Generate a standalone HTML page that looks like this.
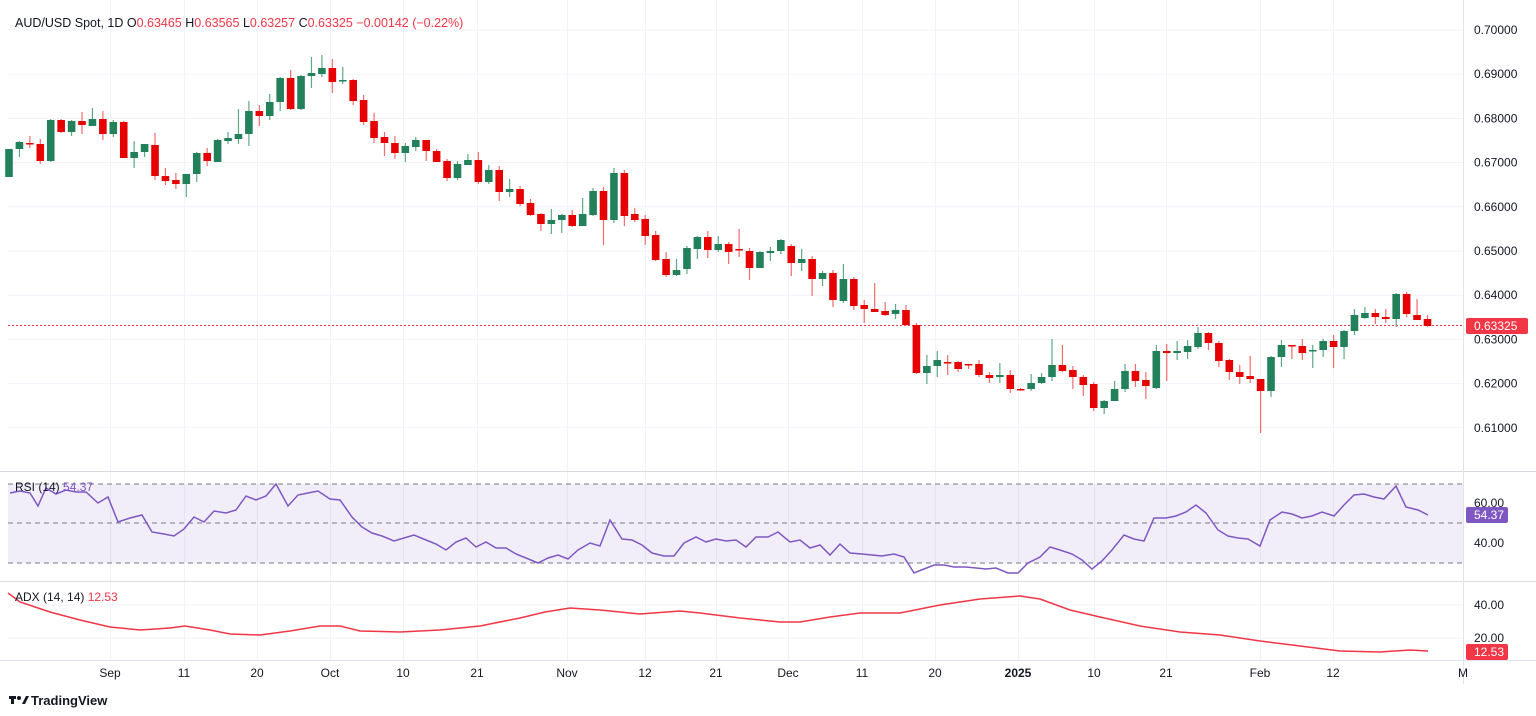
<!DOCTYPE html>
<html><head><meta charset="utf-8"><style>
html,body{margin:0;padding:0;background:#fff;width:1536px;height:716px;overflow:hidden;font-family:"Liberation Sans",sans-serif}
svg text{font-family:"Liberation Sans",sans-serif}
</style></head><body>
<svg id="s" width="1536" height="716" xmlns="http://www.w3.org/2000/svg">
<rect width="1536" height="716" fill="#fff"/>
<g id="grid"></g>
<rect x="8" y="484" width="1455" height="79" fill="#7e57c2" fill-opacity="0.1"/>
<line x1="8" y1="484" x2="1463" y2="484" stroke="#787b86" stroke-dasharray="5,4" stroke-width="1"/>
<line x1="8" y1="523" x2="1463" y2="523" stroke="#787b86" stroke-dasharray="5,4" stroke-width="1"/>
<line x1="8" y1="563" x2="1463" y2="563" stroke="#787b86" stroke-dasharray="5,4" stroke-width="1"/>
<line x1="0" y1="471.5" x2="1536" y2="471.5" stroke="#d9dbe0"/>
<line x1="0" y1="581.5" x2="1536" y2="581.5" stroke="#d9dbe0"/>
<line x1="0" y1="660.5" x2="1536" y2="660.5" stroke="#e0e3eb"/>
<line x1="1463.5" y1="0" x2="1463.5" y2="684" stroke="#e0e3eb"/>
<line x1="8" y1="325.5" x2="1463" y2="325.5" stroke="#f23645" stroke-dasharray="2,2" stroke-width="1"/>
<g id="candles"></g>
<polyline id="rsi" fill="none" stroke="#7e57c2" stroke-width="1.5"/>
<polyline id="adx" fill="none" stroke="#f23645" stroke-width="1.5"/>
<g id="labels" font-size="12" fill="#131722"></g>
<text x="15" y="27" font-size="12.5" fill="#131722">AUD/USD Spot, 1D <tspan fill="#131722">O</tspan><tspan fill="#f23645">0.63465 </tspan><tspan fill="#131722">H</tspan><tspan fill="#f23645">0.63565 </tspan><tspan fill="#131722">L</tspan><tspan fill="#f23645">0.63257 </tspan><tspan fill="#131722">C</tspan><tspan fill="#f23645">0.63325 −0.00142 (−0.22%)</tspan></text>
<text x="15" y="491" font-size="12" fill="#131722">RSI (14) <tspan fill="#7e57c2">54.37</tspan></text>
<text x="15" y="601" font-size="12" fill="#131722">ADX (14, 14) <tspan fill="#f23645">12.53</tspan></text>
<rect x="1466" y="318" width="62" height="16" rx="2" fill="#f23645"/>
<text x="1474" y="330" font-size="12" fill="#fff">0.63325</text>
<rect x="1466" y="507" width="42" height="16" rx="2" fill="#7e57c2"/>
<text x="1474" y="519" font-size="12" fill="#fff">54.37</text>
<rect x="1466" y="644" width="42" height="16" rx="2" fill="#f23645"/>
<text x="1474" y="656" font-size="12" fill="#fff">12.53</text>
<g transform="translate(9,694)"><rect x="0" y="2" width="7" height="3" fill="#131722"/><rect x="2" y="2" width="3" height="8" fill="#131722"/><circle cx="10" cy="4" r="2" fill="#131722"/><path d="M13 10 L17 2 L20 2 L16 10Z" fill="#131722"/></g>
<text x="31" y="705" font-size="13" font-weight="bold" fill="#131722">TradingView</text>
</svg>
<script>
const ns="http://www.w3.org/2000/svg";
function el(p,t,a,txt){const e=document.createElementNS(ns,t);for(const k in a)e.setAttribute(k,a[k]);if(txt!==undefined)e.textContent=txt;document.getElementById(p).appendChild(e);return e;}
// grid
const vx=[110,184,257,330,403,477,567,645,716,788,862,935,1018,1094,1166,1260,1333];
vx.forEach(x=>el('grid','line',{x1:x+.5,y1:0,x2:x+.5,y2:660,stroke:'#f0f3fa'}));
for(let i=0;i<10;i++){const y=30+i*44.2;el('grid','line',{x1:8,y1:y,x2:1463,y2:y,stroke:'#f0f3fa'});
el('labels','text',{x:1474,y:y+4},'0.'+(70000-i*1000).toString().padStart(5,'0'));}
[[0,605],[0,638]].forEach(()=>{});
el('grid','line',{x1:8,y1:605,x2:1463,y2:605,stroke:'#f0f3fa'});
el('grid','line',{x1:8,y1:638,x2:1463,y2:638,stroke:'#f0f3fa'});
el('labels','text',{x:1474,y:507},'60.00');el('labels','text',{x:1474,y:547},'40.00');
el('labels','text',{x:1474,y:609},'40.00');el('labels','text',{x:1474,y:642},'20.00');
const tl=[["Sep",110],["11",184],["20",257],["Oct",330],["10",403],["21",477],["Nov",567],["12",645],["21",716],["Dec",788],["11",862],["20",935],["2025",1018],["10",1094],["21",1166],["Feb",1260],["12",1333],["M",1463]];
tl.forEach(([t,x])=>{const e=el('labels','text',{x:x,y:677,'text-anchor':'middle'},t);if(t=="2025")e.setAttribute('font-weight','bold');});
// candles: [G/R, o, c, h, l] in px
const C=`G 177 149 149 177|G 149 142 141 157|R 143 144 136 148|R 144 161 139 164|G 161 120 119 162|R 120 132 119 133|G 132 121 120 136|R 121 125 112 134|G 126 119 108 126|R 119 134 111 140|G 134 122 120 137|R 122 158 121 158|G 158 152 141 168|G 152 144 144 157|R 145 176 133 180|R 176 181 168 185|R 180 184 173 189|G 184 174 174 197|G 174 153 152 182|R 153 161 148 166|G 162 140 139 162|G 141 138 132 144|G 139 134 109 144|G 134 111 101 146|R 111 116 105 126|G 116 102 94 120|G 102 78 77 111|R 78 109 70 110|G 109 76 75 110|G 76 73 57 88|G 74 68 55 77|R 68 82 59 93|G 81 80 67 84|R 80 101 79 105|R 100 122 95 125|R 121 138 113 143|R 137 143 132 156|R 143 153 136 159|G 153 146 143 162|G 147 140 137 151|R 140 151 140 161|R 151 162 149 162|R 161 178 159 181|G 178 164 161 180|G 165 160 154 165|R 160 182 152 184|G 182 170 165 184|R 170 192 166 201|G 192 189 179 197|R 189 204 186 206|R 203 215 199 216|R 214 224 213 231|G 224 220 209 234|G 220 215 214 233|R 215 226 210 227|G 226 214 198 226|G 215 191 188 216|R 191 220 187 245|G 220 173 168 223|R 173 216 170 226|R 214 220 208 222|R 219 236 215 245|R 235 260 231 261|R 259 275 252 277|G 275 270 259 276|G 269 248 246 274|G 249 237 236 259|R 237 250 231 258|G 250 244 236 252|R 244 252 242 264|R 249 250 229 257|R 251 268 248 280|G 268 252 251 268|G 253 251 247 261|G 251 240 239 254|R 246 263 244 276|G 263 259 249 271|R 259 279 256 296|G 279 273 271 286|R 273 300 270 307|G 301 279 264 303|R 279 306 277 310|R 305 309 300 323|R 309 312 283 312|R 311 315 302 316|G 314 310 304 319|R 310 325 305 326|R 325 373 323 374|G 373 366 355 384|G 366 360 351 377|R 362 363 355 375|R 362 369 361 372|R 364 365 364 369|R 364 375 360 377|R 375 378 372 383|G 377 375 363 383|R 375 389 370 393|R 389 390 388 390|G 389 383 374 391|G 383 377 373 384|G 377 365 339 381|R 365 371 345 372|R 370 377 366 389|R 377 385 375 396|R 384 408 382 411|G 408 401 400 414|G 401 389 381 401|G 389 371 364 392|R 371 381 364 387|R 380 386 372 399|G 388 351 345 389|R 351 353 344 381|G 353 351 341 360|G 352 346 340 359|G 347 333 327 349|R 333 343 332 350|R 343 361 341 367|R 360 372 359 380|R 372 377 365 384|R 376 379 356 383|R 379 391 379 433|G 391 357 356 397|G 357 345 340 367|R 345 346 345 359|R 346 353 339 360|G 351 350 345 368|G 350 341 339 357|R 341 347 335 368|G 347 331 330 359|G 331 315 309 335|G 318 313 307 319|R 313 317 309 324|R 317 319 309 323|G 319 294 293 327|R 294 314 292 317|R 315 320 299 320|R 319 326 315 327`.split('|');
C.forEach((s,i)=>{const [t,o,c,h,l]=s.split(' ');const col=t=='G'?'#22815a':'#e60000';const wc=t=='G'?'#5fa884':'#f26b6b';
const x=9+i*10.43;const top=Math.min(+o,+c),bot=Math.max(+o,+c);
el('candles','line',{x1:x,y1:h,x2:x,y2:l,stroke:wc,'stroke-width':1.2});
el('candles','rect',{x:x-3.8,y:top,width:7.6,height:Math.max(1.5,bot-top),fill:col});});
const R=`10 493,20 491,30 493,38 506,46 488,56 494,66 490,76 492,86 492,98 503,108 497,118 522,130 518,142 515,152 532,164 534,174 536,184 529,194 517,204 522,214 511,226 513,236 510,246 496,256 500,266 496,276 484,288 506,298 495,308 493,318 491,330 499,340 500,352 517,362 527,372 533,382 536,394 541,404 538,414 535,426 540,436 544,446 550,456 542,466 538,476 547,486 542,496 548,506 548,516 554,526 558,538 563,548 558,558 555,568 559,578 550,590 543,600 546,610 520,622 539,632 540,642 545,652 553,664 556,674 556,684 543,696 537,706 542,716 539,726 541,736 540,746 547,756 537,768 537,778 532,790 542,800 540,810 548,820 545,830 555,840 544,850 553,862 554,872 555,882 556,894 554,904 557,914 573,924 569,934 565,944 565,954 567,966 567,976 568,986 569,996 568,1008 573,1018 573,1028 563,1040 557,1050 547,1060 550,1072 554,1082 560,1092 569,1102 561,1112 550,1124 535,1134 539,1144 541,1154 518,1166 518,1176 516,1186 512,1196 505,1206 513,1218 530,1228 536,1238 538,1248 539,1260 546,1270 520,1282 512,1292 514,1302 518,1312 516,1322 512,1334 516,1344 505,1354 495,1364 494,1374 497,1384 499,1396 486,1406 507,1418 510,1428 515`;
document.getElementById('rsi').setAttribute('points',R.replace(/,/g,' ').replace(/ (\d+ \d+)/g,', $1').split(', ').join(' '));
document.getElementById('rsi').setAttribute('points',R.split(',').join(' ').replace(/(\d+) (\d+)/g,'$1,$2'));
const A=`8 593,20 602,50 612,80 620,110 627,140 630,170 628,185 626,210 630,230 634,260 635,290 631,320 626,340 626,360 631,400 632,440 630,480 626,520 618,545 612,570 608,600 610,640 614,680 611,700 613,740 618,780 622,800 622,830 617,860 613,900 613,940 605,980 599,1020 596,1040 599,1070 610,1100 617,1140 626,1180 632,1220 635,1260 641,1300 646,1340 651,1380 652,1410 650,1428 651`;
document.getElementById('adx').setAttribute('points',A.split(',').join(' ').replace(/(\d+) (\d+)/g,'$1,$2'));
</script>
</body></html>
